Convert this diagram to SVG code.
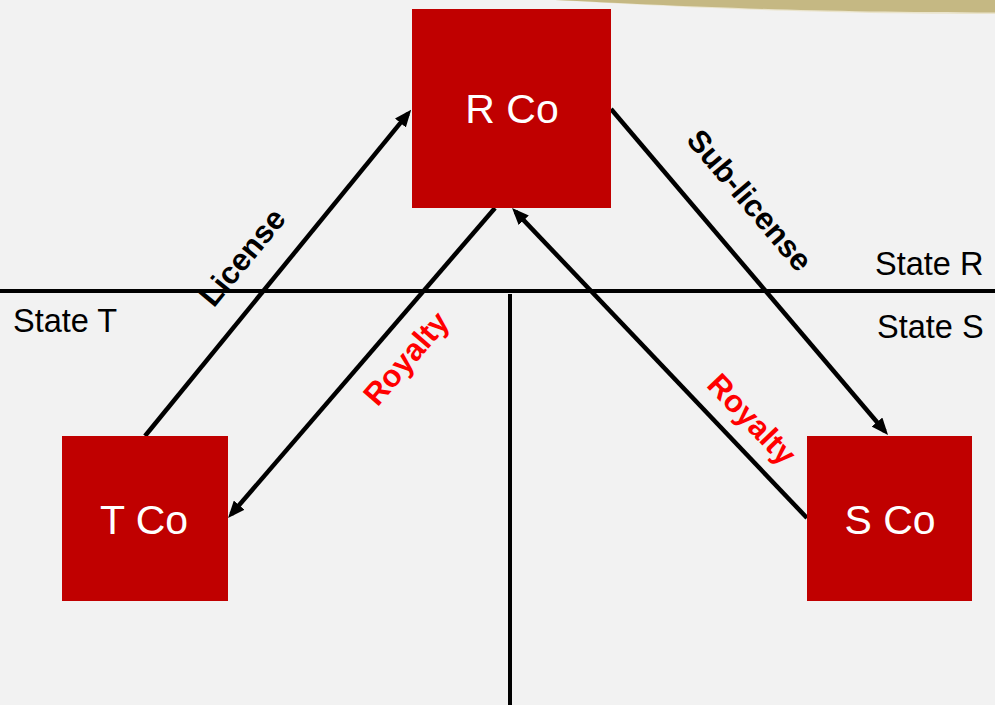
<svg xmlns="http://www.w3.org/2000/svg" width="995" height="705" viewBox="0 0 995 705">
<style>
.box{fill:#C00000}
.boxt{font-family:"Liberation Sans",Arial,sans-serif;font-size:41px;fill:#FFFFFF;text-anchor:middle}
.state{font-family:"Liberation Sans",Arial,sans-serif;font-size:32.5px;fill:#000000}
.lbl{font-family:"Liberation Sans",Arial,sans-serif;font-size:31px;font-weight:bold;text-anchor:middle}
.conn{stroke:#000;stroke-width:4.5;fill:none}
.div{stroke:#000;stroke-width:4}
</style>
<defs>
<marker id="ah" markerUnits="userSpaceOnUse" markerWidth="17" markerHeight="14" refX="12" refY="7" orient="auto" viewBox="0 0 17 14">
<path d="M0,0 L17,7 L0,14 z" fill="#000"/>
</marker>
</defs>
<rect width="995" height="705" fill="#F2F2F2"/>
<path d="M555,0 C660,6 800,14 995,14 L995,0 Z" fill="#EAE4CC"/>
<path d="M555,0 C660,5 800,12.5 995,12.5 L995,0 Z" fill="#C5B883"/>
<g id="dividers">
<line class="div" x1="0" y1="291" x2="995" y2="291"/>
<line class="div" x1="510" y1="294" x2="510" y2="705"/>
</g>
<g id="states">
<text class="state" x="875" y="275">State R</text>
<text class="state" x="877" y="338">State S</text>
<text class="state" x="13" y="332">State T</text>
</g>
<g id="connectors">
<line class="conn" x1="145" y1="436" x2="408" y2="113.7" marker-end="url(#ah)"/>
<line class="conn" x1="495" y1="208" x2="231.3" y2="514.2" marker-end="url(#ah)"/>
<line class="conn" x1="611" y1="109" x2="884.8" y2="431.2" marker-end="url(#ah)"/>
<line class="conn" x1="807" y1="518" x2="515.5" y2="211.6" marker-end="url(#ah)"/>
<text class="lbl" fill="#000" transform="translate(242,257) rotate(-50.6)" y="11">License</text>
<text class="lbl" fill="#000" transform="translate(750,200) rotate(49.7)" y="11">Sub-license</text>
<text class="lbl" fill="#FF0000" transform="translate(408,360) rotate(-49.2)" y="8">Royalty</text>
<text class="lbl" fill="#FF0000" transform="translate(750,421) rotate(46.4)" y="8">Royalty</text>
</g>
<g id="rco">
<rect class="box" x="412" y="9" width="199" height="199"/>
<text class="boxt" x="512" y="123">R Co</text>
</g>
<g id="tco">
<rect class="box" x="62" y="436" width="166" height="165"/>
<text class="boxt" x="144" y="534">T Co</text>
</g>
<g id="sco">
<rect class="box" x="807" y="436" width="165" height="165"/>
<text class="boxt" x="890" y="534">S Co</text>
</g>
</svg>
